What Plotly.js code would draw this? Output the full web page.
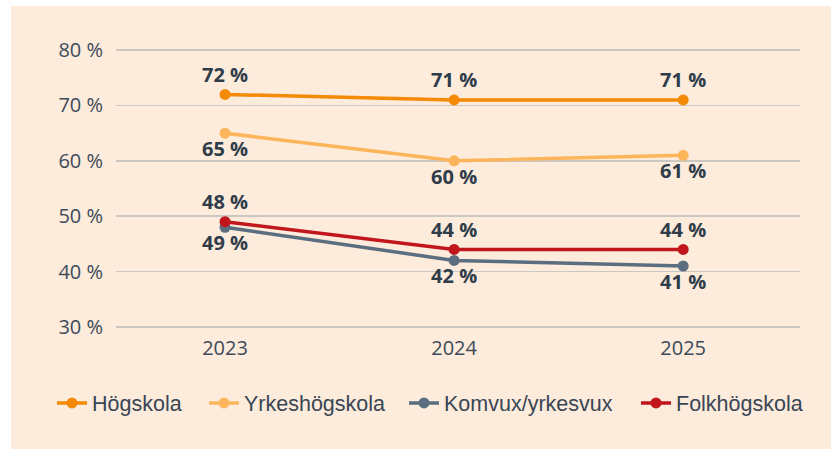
<!DOCTYPE html>
<html>
<head>
<meta charset="utf-8">
<script src="https://cdn.plot.ly/plotly-3.0.1.min.js"></script>
<style>
  html, body { margin: 0; padding: 0; background: #ffffff; width: 831px; height: 449px; overflow: hidden; }
  #chart { position: absolute; left: 11px; top: 6px; width: 820px; height: 443px; }
</style>
</head>
<body>
<div id="chart"></div>
<script>
// Data
const years = ["2023", "2024", "2025"];
const seriesNames = ["Högskola", "Yrkeshögskola", "Komvux/yrkesvux", "Folkhögskola"];
const hogskola = [72, 71, 71];
const yrkeshogskola = [65, 60, 61];
const komvux = [48, 42, 41];
const folkhogskola = [49, 44, 44];
// Data labels as printed in the reference
const hogskolaLabels = ["72 %", "71 %", "71 %"];
const yrkesLabels = ["65 %", "60 %", "61 %"];
const komvuxLabels = ["49 %", "42 %", "41 %"];
const folkLabels = ["48 %", "44 %", "44 %"];
const yTicks = [30, 40, 50, 60, 70, 80];
const yTickText = ["30 %", "40 %", "50 %", "60 %", "70 %", "80 %"];

const colors = ["#f48a06", "#fdb55c", "#5b6e7f", "#c1161c"];
const labelFont = { family: "Open Sans", size: 20, color: "#2f3c4a", weight: 700 };

function mk(name, y, labels, color, pos, legendId) {
  return {
    type: "scatter", mode: "lines+markers+text",
    name: name, x: years, y: y, text: labels,
    textposition: pos, textfont: labelFont,
    line: { color: color, width: 3.5 },
    marker: { color: color, size: 11 },
    hoverinfo: "skip", cliponaxis: false,
    legend: legendId
  };
}

const traces = [
  mk(seriesNames[0], hogskola, hogskolaLabels, colors[0], "top center", "legend"),
  mk(seriesNames[1], yrkeshogskola, yrkesLabels, colors[1], "bottom center", "legend2"),
  mk(seriesNames[2], komvux, komvuxLabels, colors[2], "bottom center", "legend3"),
  mk(seriesNames[3], folkhogskola, folkLabels, colors[3], "top center", "legend4")
];

const legFont = { family: "Liberation Sans", size: 21.5, color: "#384655" };
function leg(xpx) {
  return {
    orientation: "h", xref: "container", yref: "container",
    x: xpx / 820, y: 46 / 443, xanchor: "left", yanchor: "middle",
    bgcolor: "rgba(0,0,0,0)", font: legFont, borderwidth: 0
  };
}

const layout = {
  width: 820, height: 443,
  paper_bgcolor: "#fdebdb", plot_bgcolor: "rgba(0,0,0,0)",
  margin: { l: 105, r: 31, t: 43, b: 121 },
  showlegend: true,
  xaxis: {
    type: "category", range: [-0.476, 2.51],
    showgrid: false, zeroline: false, showline: false, ticks: "",
    tickfont: { family: "Open Sans", size: 20, color: "#3c4a59" },
    ticklabelstandoff: 6, fixedrange: true
  },
  yaxis: {
    range: [29.8, 80.2], tickmode: "array", tickvals: yTicks, ticktext: yTickText,
    showgrid: true, gridcolor: "#cbc7c2", gridwidth: 1.5,
    zeroline: false, showline: false, ticks: "",
    tickfont: { family: "Open Sans", size: 20, color: "#3c4a59" },
    ticklabelstandoff: 12, fixedrange: true
  },
  legend: leg(41),
  legend2: leg(193),
  legend3: leg(393),
  legend4: leg(625)
};

Plotly.newPlot("chart", traces, layout, { displayModeBar: false, staticPlot: true });
</script>
</body>
</html>
